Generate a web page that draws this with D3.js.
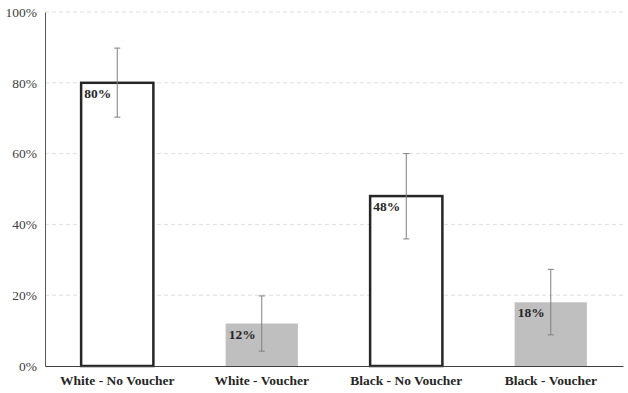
<!DOCTYPE html>
<html>
<head>
<meta charset="utf-8">
<script src="https://cdn.jsdelivr.net/npm/d3@7"></script>
<style>
  body { margin: 0; background: #fff; }
</style>
</head>
<body>
<div class="chart"></div>
<script>
var categories = ["White - No Voucher", "White - Voucher", "Black - No Voucher", "Black - Voucher"],
    values = [0.80, 0.12, 0.48, 0.18],
    errLow = [0.703, 0.042, 0.359, 0.088],
    errHigh = [0.898, 0.198, 0.60, 0.273],
    voucher = [false, true, false, true],
    yTicks = [0, 0.2, 0.4, 0.6, 0.8, 1.0];

var width = 628,
    height = 393,
    plotLeft = 45,
    plotRight = 623,
    plotTop = 12,
    plotBottom = 366,
    serif = "'Liberation Serif', 'Times New Roman', serif";

var svg = d3.select(".chart").append("svg")
    .attr("width", width)
    .attr("height", height);

var x = d3.scaleBand()
    .domain(categories)
    .range([plotLeft, plotRight])
    .paddingInner(0.5)
    .paddingOuter(0.25);

var y = d3.scaleLinear()
    .domain([0, 1])
    .range([plotBottom, plotTop]);

// gridlines
svg.selectAll(".grid")
    .data(yTicks.slice(1))
    .enter().append("line")
    .attr("x1", plotLeft)
    .attr("x2", plotRight)
    .attr("y1", function(d) { return y(d); })
    .attr("y2", function(d) { return y(d); })
    .style("stroke", "#dedede")
    .style("stroke-dasharray", "4,3")
    .style("stroke-width", 1);

// y axis
var yAxis = svg.append("g")
    .attr("transform", "translate(" + plotLeft + ",0)")
    .attr("font-family", serif)
    .call(d3.axisLeft(y).tickValues(yTicks).tickFormat(d3.format(".0%")).tickSize(0).tickPadding(8));
yAxis.attr("font-family", serif);
yAxis.select(".domain").style("stroke", "#595959");
yAxis.selectAll("text")
    .attr("font-family", serif)
    .style("font-size", "13.5px")
    .style("fill", "#404040");

// bars
svg.selectAll(".bar")
    .data(categories)
    .enter().append("rect")
    .attr("x", function(d) { return x(d); })
    .attr("y", function(d, i) { return y(values[i]); })
    .attr("width", x.bandwidth())
    .attr("height", function(d, i) { return plotBottom - y(values[i]); })
    .style("fill", function(d, i) { return voucher[i] ? "#bfbfbf" : "#fff"; })
    .style("stroke", function(d, i) { return voucher[i] ? "none" : "#262626"; })
    .style("stroke-width", 2.5);

// x axis
var xAxis = svg.append("g")
    .attr("transform", "translate(0," + plotBottom + ")")
    .call(d3.axisBottom(x).tickSize(0).tickPadding(9).tickSizeOuter(0));
xAxis.attr("font-family", serif);
xAxis.select(".domain").style("stroke", "#404040").style("stroke-width", 1.2);
xAxis.selectAll("text")
    .attr("font-family", serif)
    .style("font-size", "13.5px")
    .style("font-weight", "bold")
    .style("fill", "#262626");

// error bars
var eb = svg.selectAll(".err")
    .data(categories)
    .enter().append("g");
eb.append("line")
    .attr("x1", function(d) { return x(d) + x.bandwidth() / 2; })
    .attr("x2", function(d) { return x(d) + x.bandwidth() / 2; })
    .attr("y1", function(d, i) { return y(errLow[i]); })
    .attr("y2", function(d, i) { return y(errHigh[i]); });
eb.append("line")
    .attr("x1", function(d) { return x(d) + x.bandwidth() / 2 - 3; })
    .attr("x2", function(d) { return x(d) + x.bandwidth() / 2 + 3; })
    .attr("y1", function(d, i) { return y(errHigh[i]); })
    .attr("y2", function(d, i) { return y(errHigh[i]); });
eb.append("line")
    .attr("x1", function(d) { return x(d) + x.bandwidth() / 2 - 3; })
    .attr("x2", function(d) { return x(d) + x.bandwidth() / 2 + 3; })
    .attr("y1", function(d, i) { return y(errLow[i]); })
    .attr("y2", function(d, i) { return y(errLow[i]); });
eb.selectAll("line")
    .style("stroke", "#7f7f7f")
    .style("stroke-width", 1);

// value labels
svg.selectAll(".lbl")
    .data(categories)
    .enter().append("text")
    .attr("x", function(d) { return x(d) + 3; })
    .attr("y", function(d, i) { return y(values[i]) + 15; })
    .attr("font-family", serif)
    .text(function(d, i) { return Math.round(values[i] * 100) + "%"; })
    .style("font-size", "13.5px")
    .style("font-weight", "bold")
    .style("fill", "#262626");
</script>
</body>
</html>
